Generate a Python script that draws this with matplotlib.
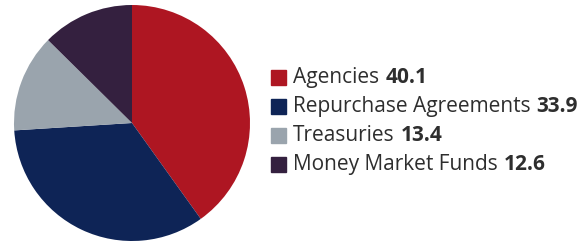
import matplotlib.pyplot as plt
from matplotlib.patches import Rectangle

labels = ['Agencies', 'Repurchase Agreements', 'Treasuries', 'Money Market Funds']
values = [40.1, 33.9, 13.4, 12.6]
colors = ['#ae1622', '#0e2456', '#9aa4ad', '#34203f']

plt.rcParams['font.family'] = ['Open Sans', 'DejaVu Sans']
fig = plt.figure(figsize=(5.81, 2.44), dpi=100)

# pie on the left
ax = fig.add_axes([14/581, 2/244, 236/581, 238/244])
ax.pie(values, colors=colors, startangle=90, counterclock=False,
       wedgeprops={'linewidth': 0})
ax.set_xlim(-1, 1)
ax.set_ylim(-1, 1)
ax.set_aspect('equal')
ax.axis('off')

fs = 15
# legend drawn by hand: square, name, bold value
y0 = 244 - 77.5
for i, (lab, val, c) in enumerate(zip(labels, values, colors)):
    y = (y0 - i * 29) / 244
    fig.patches.append(Rectangle((271/581, y - 7.5/244), 15/581, 15/244,
                                 transform=fig.transFigure, color=c))
    t = fig.text(293/581, y, lab, fontsize=fs, color='#2e2e2e', va='center')
    r = fig.canvas.get_renderer()
    bb = t.get_window_extent(renderer=r)
    fig.text((bb.x1 + 6) / 581, y, f'{val}', fontsize=fs, fontweight='bold',
             color='#2e2e2e', va='center')

fig.savefig('out.png', dpi=100)
